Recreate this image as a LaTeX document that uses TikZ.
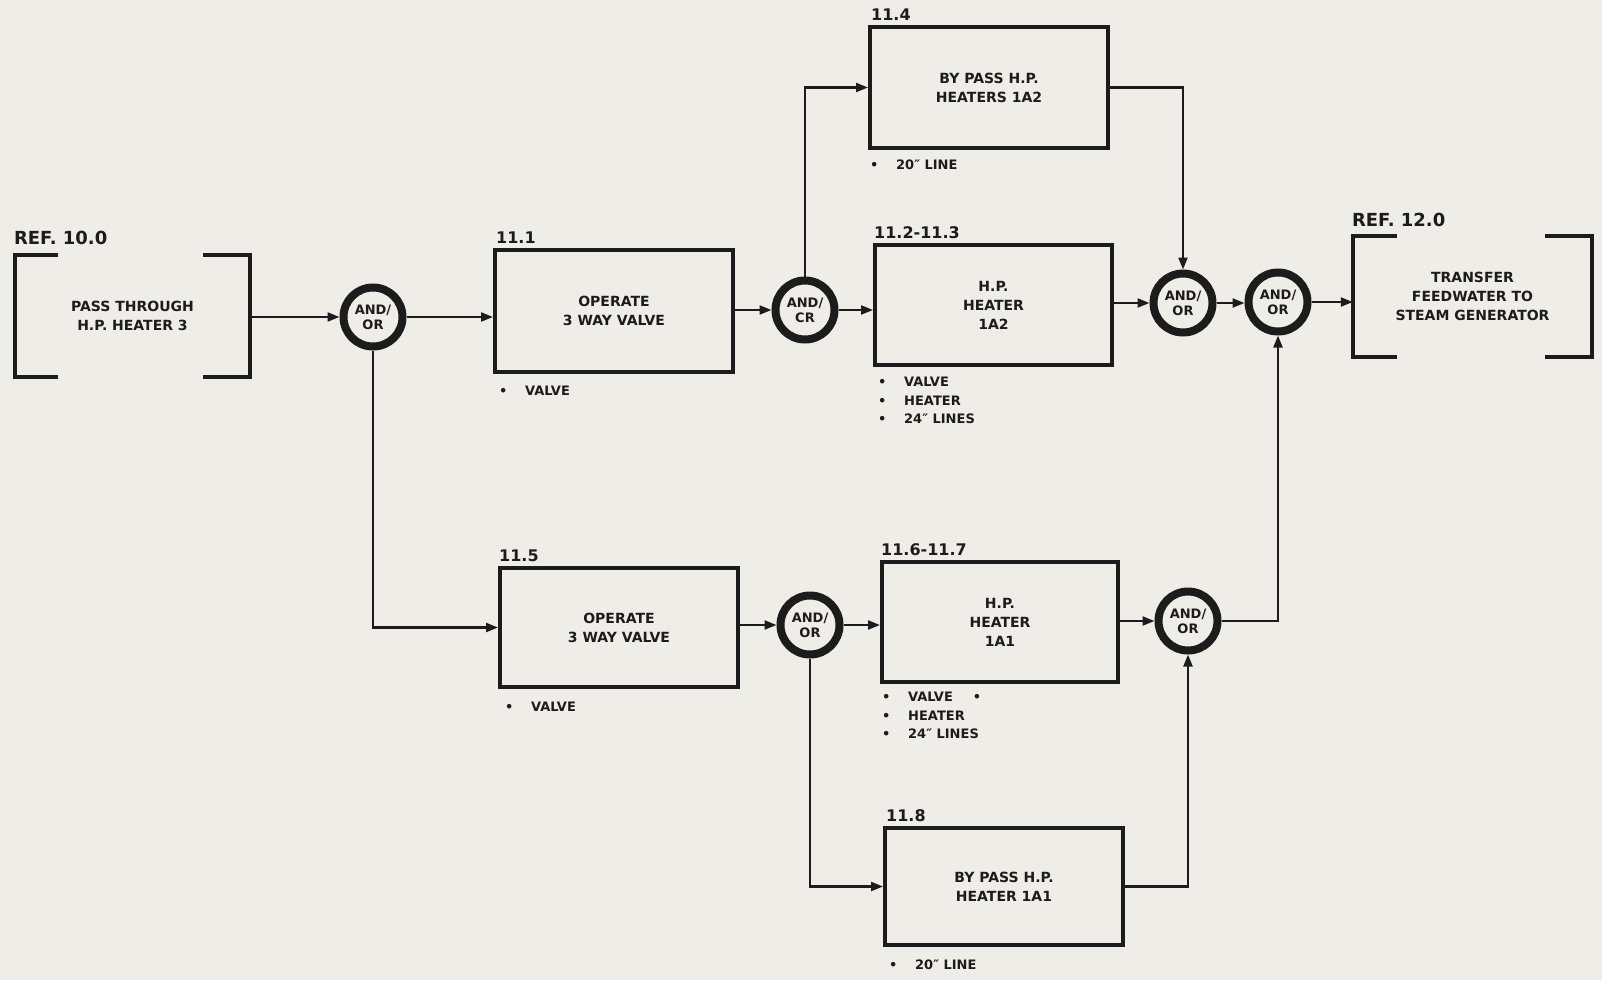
\documentclass[tikz,border=0pt]{standalone}
\usepackage{fontspec}
\setmainfont{DejaVu Sans}
\usetikzlibrary{arrows.meta,calc}
\definecolor{bg}{RGB}{238,237,232}
\definecolor{ink}{RGB}{28,28,28}
\newcommand\blt{\makebox[26pt][l]{•}}
\begin{document}
\begin{tikzpicture}[x=1pt,y=-1pt,
  every node/.style={text=ink},
  blk/.style={draw=ink, line width=4pt, rectangle, inner sep=0pt, align=center,
    font=\fontsize{14}{19}\selectfont\bfseries},
  refblk/.style={rectangle, inner sep=0pt, align=center,
    font=\fontsize{14}{19}\selectfont\bfseries},
  brk/.style={draw=ink, line width=4pt},
  gate/.style={draw=ink, circle, line width=8pt, minimum size=59pt, inner sep=0pt,
    align=center, font=\fontsize{13}{15}\selectfont\bfseries},
  arr/.style={draw=ink, line width=2.2pt, -{Triangle[length=12pt,width=9pt]}},
  num/.style={anchor=south west, inner sep=0pt, font=\fontsize{16}{18}\selectfont\bfseries},
  reflbl/.style={anchor=south west, inner sep=0pt, font=\fontsize{18}{20}\selectfont\bfseries},
  lst/.style={anchor=north west, inner sep=0pt, align=left,
    font=\fontsize{13}{18.5}\selectfont\bfseries}
]
\fill[bg] (0,0) rectangle (1602,980);
\useasboundingbox (0,0) rectangle (1602,980);

% reference blocks
\node[refblk, minimum width=235pt, minimum height=122pt] (ref10) at (132.5,316) {PASS THROUGH\\H.P. HEATER 3};
\draw[brk] ([xshift=43pt]ref10.north west) -- (ref10.north west) -- (ref10.south west) -- ([xshift=43pt]ref10.south west);
\draw[brk] ([xshift=-47pt]ref10.north east) -- (ref10.north east) -- (ref10.south east) -- ([xshift=-47pt]ref10.south east);
\node[reflbl] (ref10lbl) at ([xshift=-1pt,yshift=10pt]ref10.north west) {REF. 10.0};

\node[refblk, minimum width=239pt, minimum height=121pt] (ref12) at (1472.5,296.5) {TRANSFER\\FEEDWATER TO\\STEAM GENERATOR};
\draw[brk] ([xshift=44pt]ref12.north west) -- (ref12.north west) -- (ref12.south west) -- ([xshift=44pt]ref12.south west);
\draw[brk] ([xshift=-47pt]ref12.north east) -- (ref12.north east) -- (ref12.south east) -- ([xshift=-47pt]ref12.south east);
\node[reflbl] (ref12lbl) at ([xshift=-1pt,yshift=9pt]ref12.north west) {REF. 12.0};

% boxes
\node[blk, minimum width=238pt, minimum height=122pt] (b111) at (614,311) {OPERATE\\3 WAY VALVE};
\node[blk, minimum width=238pt, minimum height=121pt] (b114) at (989,87.5) {BY PASS H.P.\\HEATERS 1A2};
\node[blk, minimum width=237pt, minimum height=120pt] (b112) at (993.5,305) {H.P.\\HEATER\\1A2};
\node[blk, minimum width=238pt, minimum height=119pt] (b115) at (619,627.5) {OPERATE\\3 WAY VALVE};
\node[blk, minimum width=236pt, minimum height=120pt] (b116) at (1000,622) {H.P.\\HEATER\\1A1};
\node[blk, minimum width=238pt, minimum height=117pt] (b118) at (1004,886.5) {BY PASS H.P.\\HEATER 1A1};

% number labels
\node[num] (n111) at ([xshift=3pt,yshift=4pt]b111.north west) {11.1};
\node[num] (n114) at ([xshift=3pt,yshift=4pt]b114.north west) {11.4};
\node[num] (n112) at ([xshift=1pt,yshift=4pt]b112.north west) {11.2-11.3};
\node[num] (n115) at ([xshift=1pt,yshift=4pt]b115.north west) {11.5};
\node[num] (n116) at ([xshift=1pt,yshift=4pt]b116.north west) {11.6-11.7};
\node[num] (n118) at ([xshift=3pt,yshift=4pt]b118.north west) {11.8};

% bullet lists
\node[lst] (l111) at ([xshift=6pt,yshift=-12pt]b111.south west) {\blt VALVE};
\node[lst] (l114) at ([xshift=2pt,yshift=-10pt]b114.south west) {\blt 20″ LINE};
\node[lst] (l112) at ([xshift=5pt,yshift=-10pt]b112.south west) {\blt VALVE\\\blt HEATER\\\blt 24″ LINES};
\node[lst] (l115) at ([xshift=7pt,yshift=-13pt]b115.south west) {\blt VALVE};
\node[lst] (l116) at ([xshift=2pt,yshift=-8pt]b116.south west) {\blt VALVE\hspace{20pt}•\\\blt HEATER\\\blt 24″ LINES};
\node[lst] (l118) at ([xshift=6pt,yshift=-13pt]b118.south west) {\blt 20″ LINE};

% gates
\node[gate] (c1) at (373,317) {AND/\\OR};
\node[gate] (c2) at (805,310) {AND/\\CR};
\node[gate] (c3) at (1183,303) {AND/\\OR};
\node[gate] (c4) at (1278,302) {AND/\\OR};
\node[gate] (c5) at (810,625) {AND/\\OR};
\node[gate] (c6) at (1188,621) {AND/\\OR};

% connectors
\draw[arr] (ref10.east |- c1.west) -- (c1.west);
\draw[arr] (c1.east) -- (c1.east -| b111.west);
\draw[arr] (b111.east |- c2.west) -- (c2.west);
\draw[arr] (c2.east) -- (c2.east -| b112.west);
\draw[arr] (c2.north) |- (b114.west);
\draw[arr] (b114.east) -| (c3.north);
\draw[arr] (c3.west -| b112.east) -- (c3.west);
\draw[arr] (c3.east) -- (c3.east -| c4.west);
\draw[arr] (c4.east) -- (c4.east -| ref12.west);
\draw[arr] (c1.south) |- (b115.west);
\draw[arr] (b115.east |- c5.west) -- (c5.west);
\draw[arr] (c5.east) -- (c5.east -| b116.west);
\draw[arr] (c5.south) |- (b118.west);
\draw[arr] (b116.east |- c6.west) -- (c6.west);
\draw[arr] (b118.east) -| (c6.south);
\draw[arr] (c6.east) -| (c4.south);
\end{tikzpicture}
\end{document}
